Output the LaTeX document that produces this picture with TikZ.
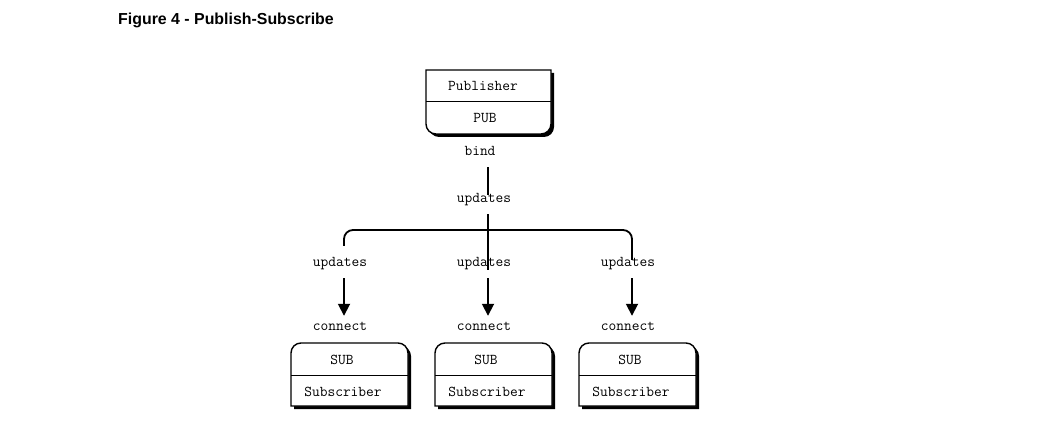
\documentclass[tikz,border=0pt]{standalone}
\usepackage{fontspec}
\newfontfamily\titlefont{Liberation Sans}
\usetikzlibrary{arrows.meta}
\tikzset{
 lbl/.style={font=\ttfamily\fontsize{15}{18}\selectfont, inner sep=0pt, text height=11pt, text depth=1pt},
 conn/.style={line width=1.8pt},
 arr/.style={conn, -{Triangle[width=12pt,length=12pt]}},
 boxline/.style={draw, line width=1.4pt, fill=white},
 shadow/.style={fill=black},
 divider/.style={line width=1pt},
 holder/.style={inner sep=0pt, draw=none},
 title/.style={font=\titlefont\bfseries\fontsize{15.9}{18}\selectfont, inner sep=0pt, anchor=west},
}
\newcommand\roundbottom[5]{%
 \path[#1] (#2,#5) -- (#4,#5) -- (#4,#3+10) arc[start angle=0,end angle=-90,radius=10] -- (#2+10,#3) arc[start angle=270,end angle=180,radius=10] -- cycle;}
\newcommand\roundtop[5]{%
 \path[#1] (#2,#3) -- (#2,#5-10) arc[start angle=180,end angle=90,radius=10] -- (#4-10,#5) arc[start angle=90,end angle=0,radius=10] -- (#4,#3) -- cycle;}
\begin{document}
\begin{tikzpicture}[x=1pt,y=1pt]
\useasboundingbox[fill=white] (0,0) rectangle (1041,442);
\node[title] (title) at (118,422) {Figure 4 - Publish-Subscribe};
% publisher
\roundbottom{shadow}{429}{305}{554}{369}
\roundbottom{boxline}{426}{308}{551}{372}
\draw[divider] (426,340) -- (551,340);
\node[holder, minimum width=125pt, minimum height=64pt] (pub) at (488.5,340) {};
\node[lbl] (pubname) at (483,356) {Publisher};
\node[lbl] (pubsock) at (485,324) {PUB};
\node[lbl] (bind) at (480,291) {bind};
\node[lbl] (upd0) at (484,244) {updates};
\coordinate (c1) at (344,0);
\coordinate (c2) at (488,0);
\coordinate (c3) at (632,0);
\coordinate (bar) at (488,212);
\foreach \i/\x in {1/340,2/484,3/628}{
 \node[lbl] (upd\i) at (\x,180) {updates};
 \node[lbl] (con\i) at (\x,116) {connect};
}
% subscribers
\foreach \i/\L in {1/291,2/435,3/579}{
 \pgfmathsetmacro\R{\L+117}
 \roundtop{shadow}{\L+3}{33}{\R+3}{96}
 \roundtop{boxline}{\L}{36}{\R}{99}
 \draw[divider] (\L,67) -- (\R,67);
 \node[holder, minimum width=117pt, minimum height=63pt] (sub\i) at (\L+58.5,67.5) {};
 \node[lbl] (subsock\i) at (\L+51,83) {SUB};
 \node[lbl] (subname\i) at (\L+52,51) {Subscriber};
}
% connectors
\draw[conn] ([yshift=-10pt]bind.south -| c2) -- ([yshift=-3pt]upd0.north -| c2);
\draw[conn] ([yshift=-10pt]upd0.south -| c2) -- ([yshift=-14pt]upd2.north -| c2);
\draw[conn, rounded corners=9pt] ([yshift=10pt]upd1.north -| c1) |- (bar) -| ([yshift=-4pt]upd3.north -| c3);
\foreach \i in {1,2,3}{
 \draw[arr] ([yshift=-10pt]upd\i.south -| c\i) -- ([yshift=4pt]con\i.north -| c\i);
}
\end{tikzpicture}
\end{document}
